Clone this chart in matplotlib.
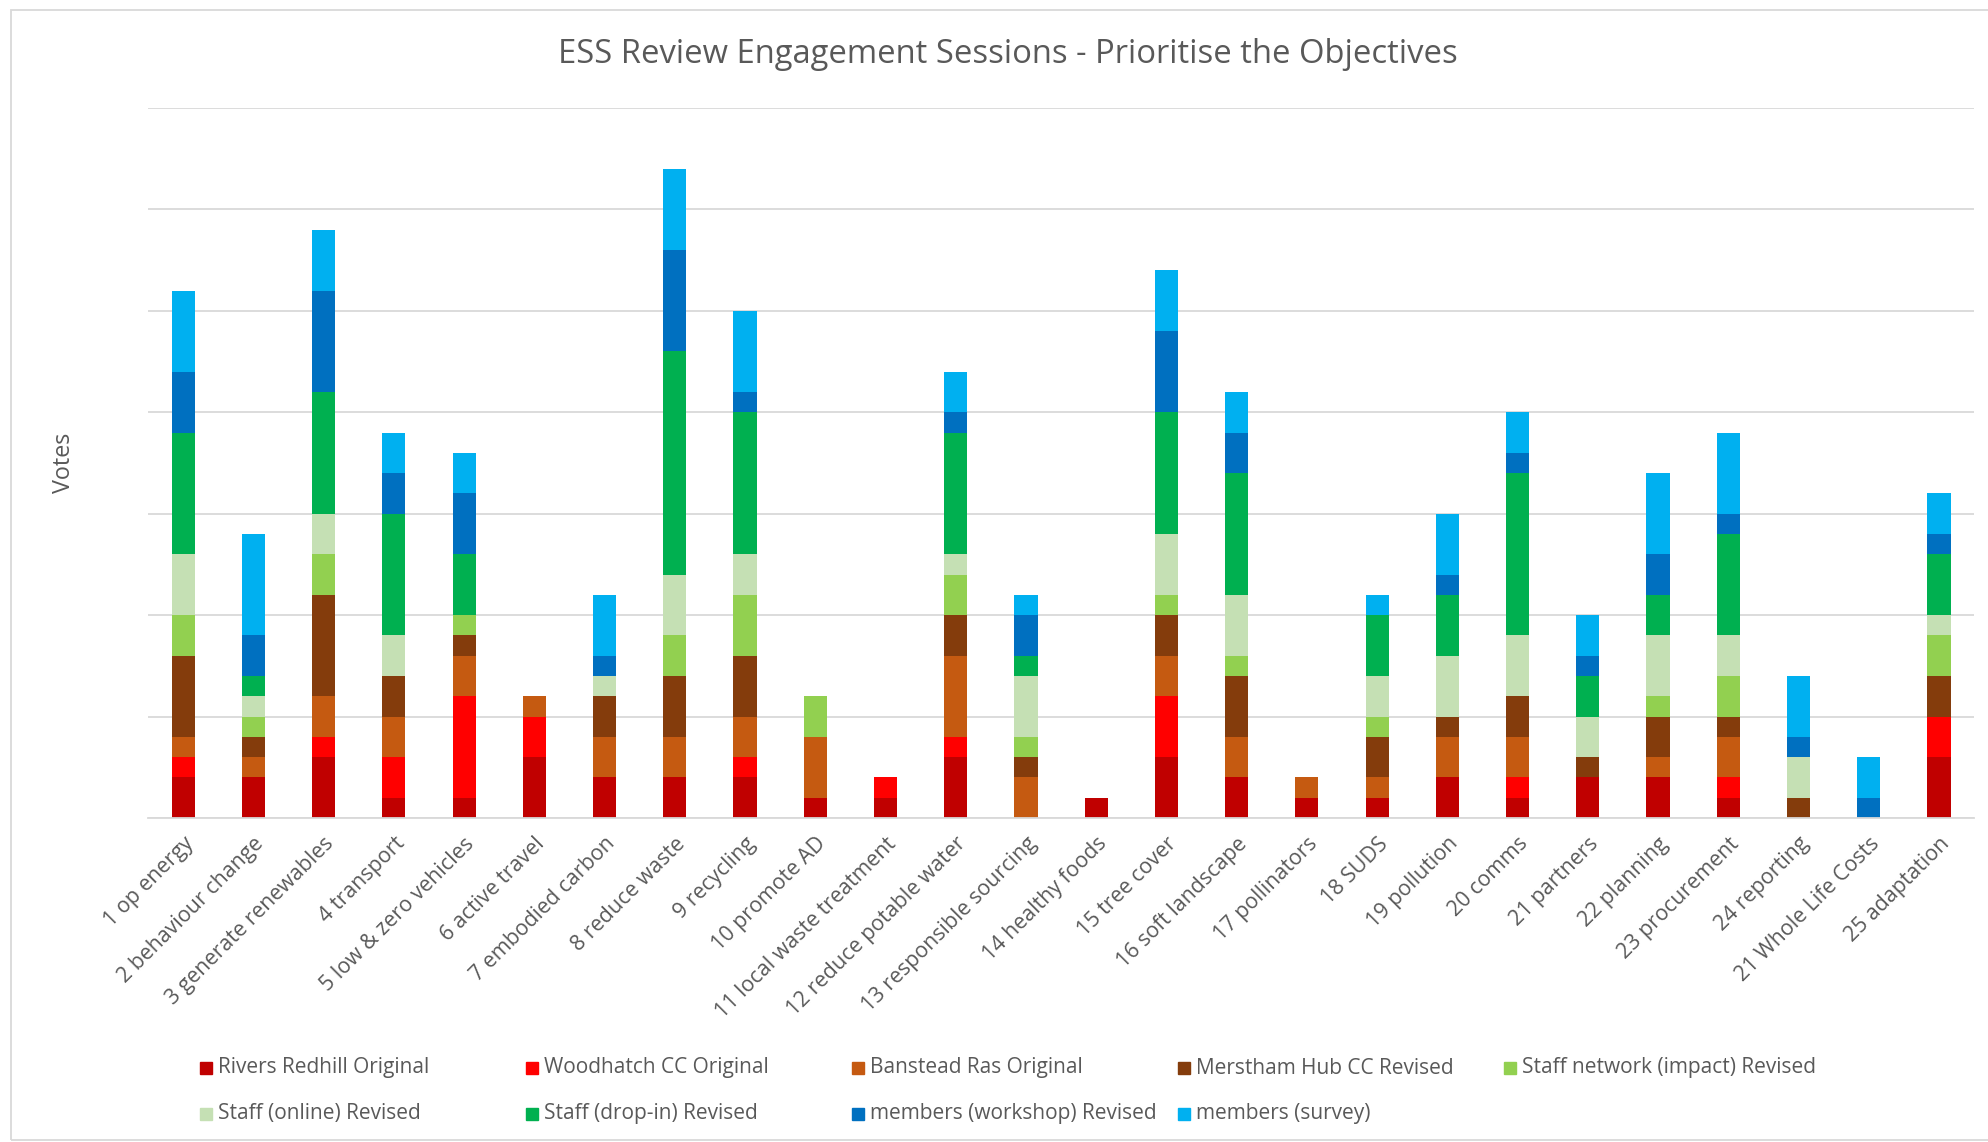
import matplotlib.pyplot as plt
from matplotlib.patches import Rectangle
import numpy as np

plt.rcParams['font.family'] = ['Open Sans', 'DejaVu Sans']

categories = ['1 op energy', '2 behaviour change', '3 generate renewables', '4 transport',
              '5 low & zero vehicles', '6 active travel', '7 embodied carbon', '8 reduce waste',
              '9 recycling', '10 promote AD', '11 local waste treatment', '12 reduce potable water',
              '13 responsible sourcing', '14 healthy foods', '15 tree cover', '16 soft landscape',
              '17 pollinators', '18 SUDS', '19 pollution', '20 comms', '21 partners', '22 planning',
              '23 procurement', '24 reporting', '21 Whole Life Costs', '25 adaptation']

rivers_redhill   = [2, 2, 3, 1, 1, 3, 2, 2, 2, 1, 1, 3, 0, 1, 3, 2, 1, 1, 2, 1, 2, 2, 1, 0, 0, 3]
woodhatch        = [1, 0, 1, 2, 5, 2, 0, 0, 1, 0, 1, 1, 0, 0, 3, 0, 0, 0, 0, 1, 0, 0, 1, 0, 0, 2]
banstead         = [1, 1, 2, 2, 2, 1, 2, 2, 2, 3, 0, 4, 2, 0, 2, 2, 1, 1, 2, 2, 0, 1, 2, 0, 0, 0]
merstham         = [4, 1, 5, 2, 1, 0, 2, 3, 3, 0, 0, 2, 1, 0, 2, 3, 0, 2, 1, 2, 1, 2, 1, 1, 0, 2]
staff_network    = [2, 1, 2, 0, 1, 0, 0, 2, 3, 2, 0, 2, 1, 0, 1, 1, 0, 1, 0, 0, 0, 1, 2, 0, 0, 2]
staff_online     = [3, 1, 2, 2, 0, 0, 1, 3, 2, 0, 0, 1, 3, 0, 3, 3, 0, 2, 3, 3, 2, 3, 2, 2, 0, 1]
staff_dropin     = [6, 1, 6, 6, 3, 0, 0, 11, 7, 0, 0, 6, 1, 0, 6, 6, 0, 3, 3, 8, 2, 2, 5, 0, 0, 3]
members_workshop = [3, 2, 5, 2, 3, 0, 1, 5, 1, 0, 0, 1, 2, 0, 4, 2, 0, 0, 1, 1, 1, 2, 1, 1, 1, 1]
members_survey   = [4, 5, 3, 2, 2, 0, 3, 4, 4, 0, 0, 2, 1, 0, 3, 2, 0, 1, 3, 2, 2, 4, 4, 3, 2, 2]

series_names = ['Rivers Redhill Original', 'Woodhatch CC Original', 'Banstead Ras Original',
                'Merstham Hub CC Revised', 'Staff network (impact) Revised', 'Staff (online) Revised',
                'Staff (drop-in) Revised', 'members (workshop) Revised', 'members (survey)']
series = [rivers_redhill, woodhatch, banstead, merstham, staff_network,
          staff_online, staff_dropin, members_workshop, members_survey]
colors = ['#C00000', '#FF0000', '#C55A11', '#843C0C', '#92D050',
          '#C5E0B4', '#00B050', '#0070C0', '#00B0F0']

grey = '#595959'

fig = plt.figure(figsize=(19.88, 11.42), dpi=100)
ax = fig.add_axes([0.0745, 0.2837, 0.9185, 0.6217])

x = np.arange(len(categories))
bottom = np.zeros(len(categories))
for vals, c, name in zip(series, colors, series_names):
    ax.bar(x, vals, 0.33, bottom=bottom, color=c, label=name, linewidth=0)
    bottom += np.array(vals)

ax.set_xlim(-0.5, len(categories) - 0.5)
ax.set_ylim(0, 35)
ax.set_yticks(np.arange(0, 36, 5))
ax.set_yticklabels([])
ax.yaxis.grid(True, color='#D9D9D9', linewidth=1.3)
ax.set_axisbelow(True)
ax.tick_params(axis='y', length=0)
ax.tick_params(axis='x', length=0, pad=11)
for s in ['top', 'right', 'left']:
    ax.spines[s].set_visible(False)
ax.spines['bottom'].set_color('#D9D9D9')
ax.spines['bottom'].set_linewidth(1.3)

ax.set_xticks(x)
ax.set_xticklabels(categories, rotation=45, ha='right', rotation_mode='anchor',
                   fontsize=15.4, color=grey)

fig.text(0.032, 0.595, 'Votes', rotation=90, ha='center', va='center', fontsize=16.8, color=grey)
fig.text(0.507, 0.952, 'ESS Review Engagement Sessions - Prioritise the Objectives',
         ha='center', va='center', fontsize=23.6, color=grey)

# legend laid out row by row like the original
W, H = 1988, 1142
for i, (name, c) in enumerate(zip(series_names, colors)):
    row, col = divmod(i, 5)
    lx = 200 + col * 326
    ly = 1068 + row * 46
    fig.patches.append(Rectangle((lx / W, 1 - (ly + 6) / H), 12 / W, 12 / H,
                                 transform=fig.transFigure, color=c))
    fig.text((lx + 18) / W, 1 - ly / H, name, ha='left', va='center', fontsize=15, color=grey)

# chart area border
fig.patches.append(Rectangle((11 / W, 2 / H), 2, (H - 12) / H, transform=fig.transFigure,
                             fill=False, edgecolor='#D9D9D9', linewidth=1.3))

fig.savefig('out.png', dpi=100, facecolor='white')
